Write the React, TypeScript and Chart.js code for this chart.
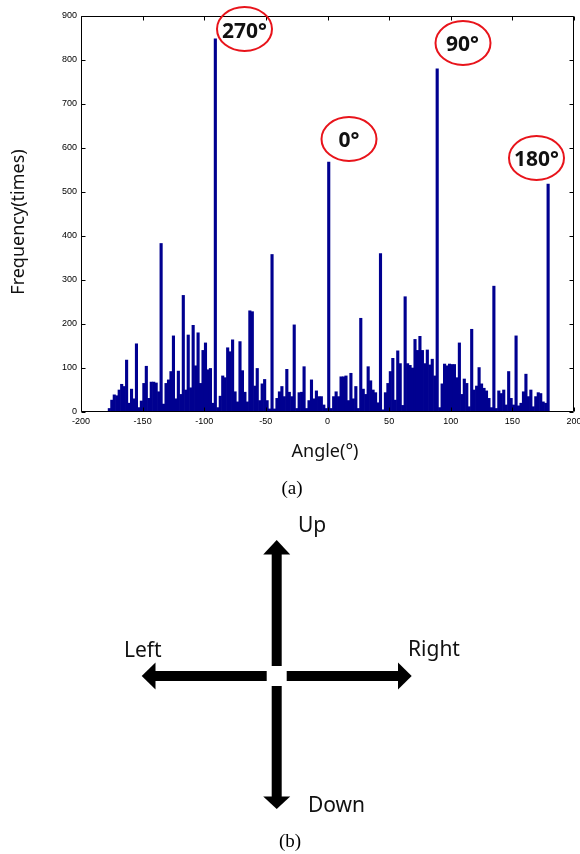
import React, { useEffect, useRef } from "react";
import { Chart, registerables } from "chart.js";

Chart.register(...registerables);

// Bin centres (degrees) of the angle histogram
const angleBins = [
  -177, -175, -173, -171, -169, -167, -165, -163, -161, -159, -157, -155, -153, -151, -149, -147, -145, -143, -141, -139,
  -137, -135, -133, -131, -129, -127, -125, -123, -121, -119, -117, -115, -113, -111, -109, -107, -105, -103, -101, -99,
  -97, -95, -93, -91, -89, -87, -85, -83, -81, -79, -77, -75, -73, -71, -69, -67, -65, -63, -61, -59,
  -57, -55, -53, -51, -49, -47, -45, -43, -41, -39, -37, -35, -33, -31, -29, -27, -25, -23, -21, -19,
  -17, -15, -13, -11, -9, -7, -5, -3, -1, 1, 3, 5, 7, 9, 11, 13, 15, 17, 19, 21,
  23, 25, 27, 29, 31, 33, 35, 37, 39, 41, 43, 45, 47, 49, 51, 53, 55, 57, 59, 61,
  63, 65, 67, 69, 71, 73, 75, 77, 79, 81, 83, 85, 87, 89, 91, 93, 95, 97, 99, 101,
  103, 105, 107, 109, 111, 113, 115, 117, 119, 121, 123, 125, 127, 129, 131, 133, 135, 137, 139, 141,
  143, 145, 147, 149, 151, 153, 155, 157, 159, 161, 163, 165, 167, 169, 171, 173, 175, 177, 179,
];

// Frequency (times) per bin
const frequency = [
  8, 27, 39, 37, 50, 63, 58, 118, 20, 52, 30, 155, 10, 25, 65, 104, 31, 68, 68, 66,
  46, 383, 18, 65, 73, 92, 173, 30, 93, 40, 265, 50, 175, 55, 197, 105, 180, 65, 140, 157,
  96, 99, 20, 848, 10, 36, 82, 78, 146, 137, 164, 46, 23, 160, 94, 45, 23, 230, 228, 59,
  99, 26, 64, 74, 26, 7, 358, 7, 31, 46, 58, 35, 97, 45, 35, 198, 8, 44, 45, 103,
  8, 26, 73, 30, 48, 35, 35, 16, 8, 568, 8, 35, 46, 35, 80, 80, 82, 26, 88, 30,
  58, 8, 213, 52, 40, 103, 71, 50, 44, 21, 360, 5, 44, 65, 92, 122, 27, 139, 110, 15,
  262, 110, 106, 100, 165, 140, 172, 140, 110, 141, 107, 120, 82, 780, 10, 64, 109, 105, 109, 108,
  108, 78, 157, 40, 75, 65, 12, 188, 50, 59, 101, 64, 54, 48, 31, 10, 286, 8, 48, 42,
  50, 16, 92, 31, 16, 173, 14, 20, 46, 86, 35, 50, 12, 35, 44, 42, 23, 20, 518,
];

const xTickValues = [-200, -150, -100, -50, 0, 50, 100, 150, 200];
const yTickValues = [0, 100, 200, 300, 400, 500, 600, 700, 800, 900];

const peakLabels = ["270°", "0°", "90°", "180°"];

const boxTicksPlugin = {
  id: "boxTicks",
  afterDraw(chart: any) {
    const { ctx, chartArea: a, scales } = chart;
    const L = Math.round(a.left) + 0.5;
    const R = Math.round(a.right) - 0.5;
    const T = Math.round(a.top) + 0.5;
    const B = Math.round(a.bottom) - 0.5;
    ctx.save();
    ctx.strokeStyle = "#000";
    ctx.lineWidth = 1;
    ctx.beginPath();
    ctx.rect(L, T, R - L, B - T);
    const tl = 4;
    xTickValues.forEach((v) => {
      const px = Math.round(scales.x.getPixelForValue(v)) + 0.5;
      ctx.moveTo(px, B);
      ctx.lineTo(px, B - tl);
      ctx.moveTo(px, T);
      ctx.lineTo(px, T + tl);
    });
    yTickValues.forEach((v) => {
      const py = Math.round(scales.y.getPixelForValue(v)) + 0.5;
      ctx.moveTo(L, py);
      ctx.lineTo(L + tl, py);
      ctx.moveTo(R, py);
      ctx.lineTo(R - tl, py);
    });
    ctx.stroke();
    ctx.restore();
  },
};

function Histogram() {
  const ref = useRef<HTMLCanvasElement | null>(null);
  useEffect(() => {
    if (!ref.current) return;
    const tickFont = { family: "'Liberation Sans', Arial, sans-serif", size: 9 };
    const chart = new Chart(ref.current, {
      type: "bar",
      data: {
        datasets: [
          {
            data: angleBins.map((a, i) => ({ x: a, y: frequency[i] })),
            backgroundColor: "#000090",
            borderWidth: 0,
            barPercentage: 1,
            categoryPercentage: 1,
          } as any,
        ],
      },
      options: {
        animation: false,
        responsive: false,
        maintainAspectRatio: false,
        layout: { padding: { left: 0, right: 6, top: 16, bottom: 38 } },
        plugins: { legend: { display: false }, tooltip: { enabled: false } },
        scales: {
          x: {
            type: "linear",
            min: -200,
            max: 200,
            offset: false,
            grid: { display: false, drawTicks: false },
            border: { display: false },
            ticks: {
              stepSize: 50,
              color: "#000",
              font: tickFont,
              padding: 4,
              maxRotation: 0,
              autoSkip: false,
              callback: (v: any) => String(v),
            },
            afterFit: (s: any) => {
              s.height = 20;
              s.paddingLeft = 0;
              s.paddingRight = 0;
            },
          },
          y: {
            min: 0,
            max: 900,
            grid: { display: false, drawTicks: false },
            border: { display: false },
            ticks: {
              stepSize: 100,
              color: "#000",
              font: tickFont,
              padding: 4,
              callback: (v: any) => String(v),
            },
            afterFit: (s: any) => {
              s.width = 81;
              s.paddingTop = 0;
              s.paddingBottom = 0;
            },
          },
        },
      } as any,
      plugins: [boxTicksPlugin],
    });
    return () => chart.destroy();
  }, []);
  return (
    <canvas
      ref={ref}
      width={580}
      height={470}
      style={{ position: "absolute", left: 0, top: 0, display: "block" }}
    />
  );
}

const sans = "'Noto Sans', 'Open Sans', sans-serif";
const serif = "'Liberation Serif', 'DejaVu Serif', serif";

export default function App() {
  const ell = [
    { cx: 244.5, cy: 29, tx: 244.5, ty: 37.5 },
    { cx: 349, cy: 139, tx: 349, ty: 146.5 },
    { cx: 463, cy: 43, tx: 462.5, ty: 51 },
    { cx: 536.5, cy: 158, tx: 536.5, ty: 166 },
  ];
  return (
    <div
      style={{
        position: "absolute",
        left: 0,
        top: 0,
        width: 580,
        height: 854,
        background: "#fff",
        overflow: "hidden",
      }}
    >
      <Histogram />
      <svg
        width={580}
        height={854}
        style={{ position: "absolute", left: 0, top: 0, pointerEvents: "none" }}
      >
        {ell.map((e, i) => (
          <g key={i}>
            <ellipse cx={e.cx} cy={e.cy} rx={27.5} ry={22} fill="none" stroke="#E8141B" strokeWidth={2} />
            <text
              x={e.tx}
              y={e.ty}
              textAnchor="middle"
              fontFamily={sans}
              fontWeight="bold"
              fontSize={21}
              fill="#111"
            >
              {peakLabels[i]}
            </text>
          </g>
        ))}
        <text
          x={17}
          y={222}
          transform="rotate(-90 17 222)"
          textAnchor="middle"
          dominantBaseline="central"
          fontFamily={sans}
          fontSize={18}
          fill="#111"
        >
          Frequency(times)
        </text>
        <text x={325} y={457} textAnchor="middle" fontFamily={sans} fontSize={18} fill="#111">
          Angle(°)
        </text>
        <text x={292} y={494} textAnchor="middle" fontFamily={serif} fontSize={19} fill="#000">
          (a)
        </text>

        {/* (b) direction diagram */}
        <g fill="#000">
          <rect x={271.7} y={554} width={10} height={112} />
          <polygon points="263.2,554.5 290.2,554.5 276.7,540" />
          <rect x={271.7} y={686} width={10} height={111} />
          <polygon points="263.2,796.5 290.2,796.5 276.7,809" />
          <rect x={155} y={671} width={111.7} height={10} />
          <polygon points="155.5,662.5 155.5,689.5 141.7,676" />
          <rect x={286.7} y={671} width={111.7} height={10} />
          <polygon points="398,662.5 398,689.5 411.7,676" />
        </g>
        <text x={298} y={532} fontFamily={sans} fontSize={21} fill="#111">
          Up
        </text>
        <text x={124} y={657} fontFamily={sans} fontSize={21} fill="#111">
          Left
        </text>
        <text x={408} y={656} fontFamily={sans} fontSize={21} fill="#111">
          Right
        </text>
        <text x={308} y={812} fontFamily={sans} fontSize={21} fill="#111">
          Down
        </text>
        <text x={290} y={847} textAnchor="middle" fontFamily={serif} fontSize={19} fill="#000">
          (b)
        </text>
      </svg>
    </div>
  );
}
